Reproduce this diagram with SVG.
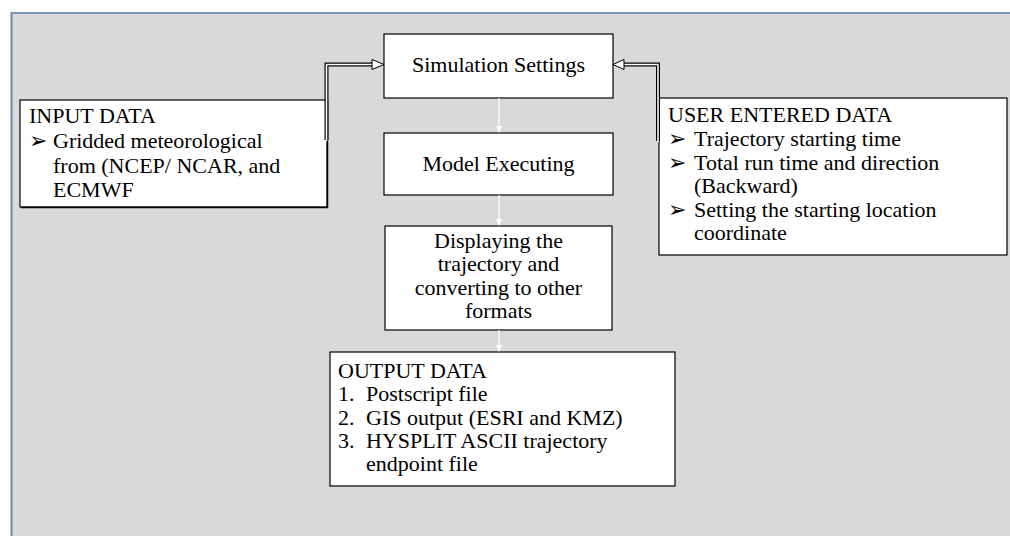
<svg xmlns="http://www.w3.org/2000/svg" width="1010" height="536" viewBox="0 0 1010 536">
<style>
.box{fill:#ffffff;stroke:#000000;stroke-width:1.2}
.t{font-family:"Liberation Serif","Times New Roman",serif;font-size:22px;fill:#000000}
.c{text-anchor:middle}
.dbl-out{fill:none;stroke:#000000;stroke-width:4}
.dbl-in{fill:none;stroke:#ffffff;stroke-width:1.6}
.head{fill:#ffffff;stroke:#000000;stroke-width:1}
.down{stroke:#ffffff;stroke-width:1.2;fill:none}
.dh{fill:#ffffff}
</style>
<rect x="0" y="0" width="1010" height="536" fill="#ffffff"/>
<rect x="11" y="12" width="999" height="524" fill="#d9d9d9"/>
<line x1="11" y1="13" x2="1010" y2="13" stroke="#7f96b8" stroke-width="2"/>
<line x1="11.5" y1="12" x2="11.5" y2="536" stroke="#6f88b0" stroke-width="2"/>

<g id="input-data">
<rect class="box" x="20" y="100" width="307" height="107"/>
<line x1="327.5" y1="101" x2="327.5" y2="208" stroke="#000" stroke-width="1.5"/>
<line x1="21" y1="207.5" x2="328" y2="207.5" stroke="#000" stroke-width="1.5"/>
<text class="t" x="29" y="123">INPUT DATA</text>
<text class="t" x="29" y="148">➢</text>
<text class="t" x="53" y="148">Gridded meteorological</text>
<text class="t" x="53" y="173">from (NCEP/ NCAR, and</text>
<text class="t" x="53" y="197">ECMWF</text>
</g>

<g id="simulation-settings">
<rect class="box" x="384" y="34" width="229" height="64"/>
<text class="t c" x="498.5" y="72">Simulation Settings</text>
</g>

<g id="model-executing">
<rect class="box" x="384" y="133" width="229" height="62"/>
<text class="t c" x="498.5" y="171">Model Executing</text>
</g>

<g id="displaying">
<rect class="box" x="385" y="226" width="227" height="104"/>
<text class="t c" x="498.5" y="248">Displaying the</text>
<text class="t c" x="498.5" y="271">trajectory and</text>
<text class="t c" x="498.5" y="295">converting to other</text>
<text class="t c" x="498.5" y="318">formats</text>
</g>

<g id="user-entered-data">
<rect class="box" x="659" y="98" width="348" height="157"/>
<text class="t" x="668" y="122">USER ENTERED DATA</text>
<text class="t" x="668" y="146">➢</text>
<text class="t" x="694" y="146">Trajectory starting time</text>
<text class="t" x="668" y="170">➢</text>
<text class="t" x="694" y="170">Total run time and direction</text>
<text class="t" x="694" y="193">(Backward)</text>
<text class="t" x="668" y="217">➢</text>
<text class="t" x="694" y="217">Setting the starting location</text>
<text class="t" x="694" y="240">coordinate</text>
</g>

<g id="output-data">
<rect class="box" x="330" y="352" width="345" height="134"/>
<text class="t" x="338" y="378">OUTPUT DATA</text>
<text class="t" x="338" y="401">1.</text>
<text class="t" x="366" y="401">Postscript file</text>
<text class="t" x="338" y="425">2.</text>
<text class="t" x="366" y="425">GIS output (ESRI and KMZ)</text>
<text class="t" x="338" y="448">3.</text>
<text class="t" x="366" y="448">HYSPLIT ASCII trajectory</text>
<text class="t" x="366" y="471">endpoint file</text>
</g>

<g id="connectors">
<path class="dbl-out" d="M326.5,140 V64.5 H373"/>
<path class="dbl-in" d="M326.5,141 V64.5 H374"/>
<polygon class="head" points="372,59.5 384,64.5 372,69.5"/>
<path class="dbl-out" d="M658,141 V64.5 H623"/>
<path class="dbl-in" d="M658,142 V64.5 H622"/>
<polygon class="head" points="624,59.5 613,64.5 624,69.5"/>
<line class="down" x1="499" y1="98" x2="499" y2="128"/>
<polygon class="dh" points="496,126 499,133 502,126"/>
<line class="down" x1="499" y1="195" x2="499" y2="221"/>
<polygon class="dh" points="496,219 499,226 502,219"/>
<line class="down" x1="499" y1="330" x2="499" y2="347"/>
<polygon class="dh" points="496,345 499,352 502,345"/>
</g>
</svg>
